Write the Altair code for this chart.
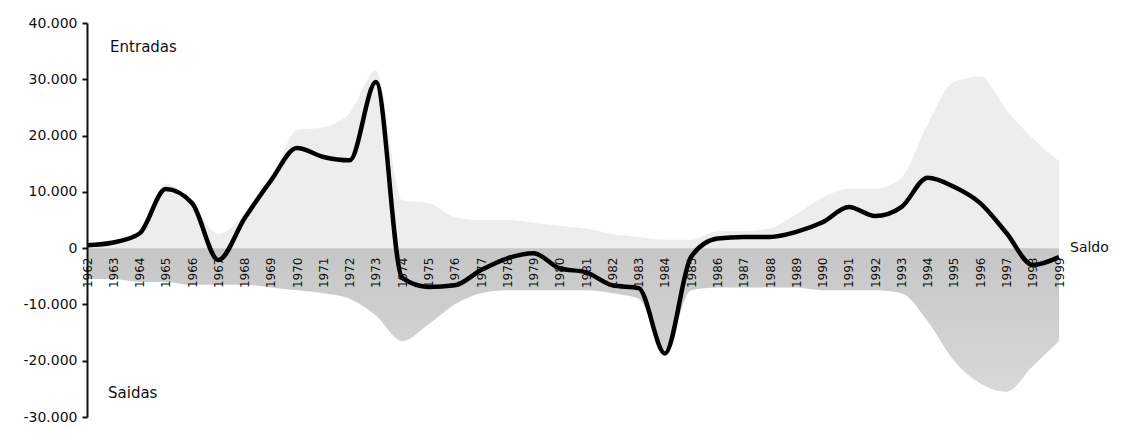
import altair as alt
import pandas as pd

years = list(range(1962, 2000))

entradas = [800, 1200, 3000, 11500, 8000, 2500, 6000, 12000, 21000, 21500,
            24000, 31500, 8500, 8000, 5500, 5000, 5000, 4500, 4000, 3500,
            2500, 2000, 1500, 1500, 3000, 3000, 3500, 6000, 9000, 10500,
            10500, 12500, 22000, 29500, 30500, 24500, 19500, 15500]

saidas = [-5500, -5500, -6000, -6000, -6500, -6500, -6500, -7000, -7500, -8000,
          -9000, -12000, -16500, -13500, -10000, -8000, -7500, -7500, -7500, -7500,
          -8000, -9000, -18000, -7500, -7000, -7000, -7000, -7000, -7500, -7500,
          -7500, -8000, -13000, -20000, -24000, -25500, -21000, -16500]

saldo = [500, 1000, 2600, 10500, 8000, -2100, 5300, 12000, 17800, 16200,
         15600, 29500, -5300, -6900, -6600, -3900, -1800, -900, -3600, -4300,
         -6600, -7100, -18700, -1500, 1700, 2000, 2000, 2900, 4600, 7300,
         5700, 7300, 12500, 10900, 8000, 2700, -3000, -1600]

y_ticks = [-30000, -20000, -10000, 0, 10000, 20000, 30000, 40000]

notes_text = ["Entradas", "Saidas"]
notes_year = [1962.88, 1962.8]
notes_value = [35700, -25750]

series_label = ["Saldo"]
series_label_year = [1999]
series_label_value = [0]

df = pd.DataFrame({"ano": years, "entradas": entradas, "saidas": saidas, "saldo": saldo})
notes = pd.DataFrame({"ano": notes_year, "v": notes_value, "t": notes_text})
end_label = pd.DataFrame({"ano": series_label_year, "v": series_label_value, "t": series_label})

FONT = "DejaVu Sans"

xscale = alt.Scale(domain=[1962, 1999], nice=False, zero=False)
yscale = alt.Scale(domain=[-30000, 40000], nice=False)

x_axis = alt.Axis(values=years, format="d", labelAngle=-90, offset=-169,
                  domain=False, ticks=False, grid=False, labelPadding=9,
                  labelFontSize=12, labelFont=FONT, labelColor="#111",
                  labelOverlap=False, labelBound=False, labelFlush=False,
                  title=None, zindex=1)

y_axis = alt.Axis(
    values=y_ticks, grid=False, title=None, domainColor="#111", domainWidth=2,
    tickColor="#111", tickWidth=2, tickSize=5, labelPadding=5,
    labelFontSize=14, labelFont=FONT, labelColor="#111", zindex=1,
    labelExpr="(datum.value < 0 ? '-' : '') + replace(format(abs(datum.value), ','), ',', '.')",
)


def xe():
    return alt.X("ano:Q", scale=xscale, axis=x_axis)


def ye(field):
    return alt.Y(field, scale=yscale, axis=y_axis)


base = alt.Chart(df)

area_in = base.mark_area(interpolate="monotone", color="#ededed").encode(
    x=xe(),
    y=ye("entradas:Q"),
    y2=alt.datum(0),
)

area_out = base.mark_area(
    interpolate="monotone",
    fill=alt.Gradient(
        gradient="linear",
        stops=[alt.GradientStop(color="#c6c6c6", offset=0),
               alt.GradientStop(color="#d8d8d8", offset=1)],
        x1=0, x2=0, y1=0, y2=1,
    ),
).encode(
    x=xe(),
    y=ye("saidas:Q"),
    y2=alt.datum(0),
)

line = base.mark_line(interpolate="monotone", color="#000", strokeWidth=4.5).encode(
    x=xe(),
    y=ye("saldo:Q"),
)

note_marks = alt.Chart(notes).mark_text(
    align="left", baseline="middle", font=FONT, fontSize=15, color="#111"
).encode(
    x=xe(),
    y=ye("v:Q"),
    text="t:N",
)

saldo_label = alt.Chart(end_label).mark_text(
    align="left", baseline="middle", font=FONT, fontSize=14, color="#111", dx=11
).encode(
    x=xe(),
    y=ye("v:Q"),
    text="t:N",
)

chart = alt.layer(area_in, area_out, line, note_marks, saldo_label).properties(
    width=972, height=394,
    autosize=alt.AutoSizeParams(type="none"),
    padding={"left": 79, "top": 15, "right": 52, "bottom": 15},
    background="white",
).configure_view(stroke=None).configure_axisX(labelOverlap=False)

chart.save("out.html", embed_options={"renderer": "svg", "actions": False})
